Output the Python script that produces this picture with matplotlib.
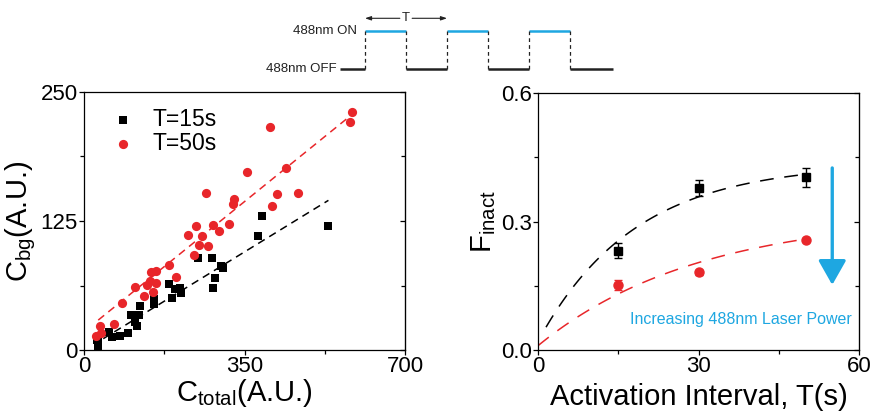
import numpy as np
import matplotlib.pyplot as plt
from matplotlib.ticker import MultipleLocator

plt.rcParams['font.family'] = ['Liberation Sans', 'DejaVu Sans']
plt.rcParams['mathtext.default'] = 'regular'

RED = '#e8262a'
BLUE = '#1ea7e1'

# --- left panel: C_bg vs C_total ---
red_x = [585, 580, 405, 356, 440, 267, 327, 324, 420, 467, 411, 316, 281, 244, 295, 226,
         257, 251, 270, 240, 186, 156, 147, 200, 145, 158, 138, 111, 151, 131, 82, 66, 35, 26, 38]
red_y = [231, 221, 216, 172, 176, 152, 146, 141, 151, 152, 140, 122, 121, 120, 115, 111,
         110, 102, 101, 92, 82, 77, 76, 71, 67, 65, 63, 61, 56, 52, 46, 25, 23, 14, 16]
black_x = [531, 389, 379, 249, 279, 298, 304, 285, 282, 186, 198, 209, 211, 192, 153, 153,
           122, 103, 120, 111, 115, 97, 78, 55, 60, 30, 30, 30, 28]
black_y = [120, 130, 110, 89, 89, 81, 79, 70, 60, 64, 59, 60, 55, 50, 49, 45,
           43, 34, 34, 27, 23, 16, 14, 17, 13, 8, 3, 5, 10]
# linear fits (slope, intercept) and drawn ranges
fit15 = (0.273, -0.5)
fit15_x = [42, 533]
fit50 = (0.36, 17.8)
fit50_x = [31, 584]

# --- right panel: F_inact vs activation interval ---
interval = [15, 30, 50]
f_black = [0.232, 0.378, 0.403]
f_black_err = [0.017, 0.019, 0.022]
f_red = [0.152, 0.181, 0.257]
f_red_err = [0.012, 0.006, 0.0]
# saturating fits: y0 + A*(1-exp(-T/tau))
sat_black = (0.02, 0.416, 18.0)
sat_black_x = [1.5, 50]
sat_red = (0.01, 0.307, 30.0)
sat_red_x = [0.0, 50]

# --- pulse schematic: levels per segment (0 = off, 1 = on) ---
seg_start = [-0.62, 0, 1, 2, 3, 4, 5]
seg_end = [0, 1, 2, 3, 4, 5, 6.04]
seg_level = [0, 1, 0, 1, 0, 1, 0]

fig = plt.figure(figsize=(8.75, 4.19), dpi=100)

def style_axes(ax):
    for s in ax.spines.values():
        s.set_linewidth(0.9)
    ax.tick_params(which='both', direction='out', top=False, right=False,
                   labelsize=16, pad=1, width=0.9)
    ax.tick_params(which='major', length=3.5)
    ax.tick_params(which='minor', length=3)
    sec = ax.secondary_yaxis('right')
    sec.tick_params(which='both', direction='in', labelright=False, width=0.9)
    sec.tick_params(which='major', length=3.5)
    sec.tick_params(which='minor', length=3)
    return sec

# left axes
ax1 = fig.add_axes([84/875, 69/419, 321/875, 258/419])
ax1.scatter(black_x, black_y, marker='s', s=34, color='black', linewidths=0, zorder=3, label='T=15s')
ax1.scatter(red_x, red_y, marker='o', s=44, color=RED, linewidths=0, zorder=3, label='T=50s')
fx = np.array(fit15_x)
ax1.plot(fx, fit15[0]*fx + fit15[1], ls=(0, (5, 3.5)), color='black', lw=1.1, zorder=2)
fx = np.array(fit50_x)
ax1.plot(fx, fit50[0]*fx + fit50[1], ls=(0, (5, 3.5)), color=RED, lw=1.1, zorder=2)
ax1.set_xlim(0, 700)
ax1.set_ylim(0, 250)
ax1.xaxis.set_major_locator(MultipleLocator(350))
ax1.xaxis.set_minor_locator(MultipleLocator(175))
ax1.yaxis.set_major_locator(MultipleLocator(125))
ax1.yaxis.set_minor_locator(MultipleLocator(62.5))
sec1 = style_axes(ax1)
sec1.yaxis.set_major_locator(MultipleLocator(125))
sec1.yaxis.set_minor_locator(MultipleLocator(62.5))
ax1.set_xlabel('C$_{total}$(A.U.)', fontsize=21, labelpad=0)
ax1.set_ylabel('C$_{bg}$(A.U.)', fontsize=21, labelpad=2)
ax1.legend(loc='upper left', frameon=False, fontsize=16.5, handletextpad=0.3,
           borderaxespad=0.3, labelspacing=0.05, markerscale=1.0,
           bbox_to_anchor=(0.0, 1.0))

# right axes
ax2 = fig.add_axes([538/875, 69/419, 321/875, 257/419])
tx = np.linspace(sat_black_x[0], sat_black_x[1], 100)
ax2.plot(tx, sat_black[0] + sat_black[1]*(1 - np.exp(-tx/sat_black[2])),
         ls=(0, (9, 7)), color='black', lw=1.1, zorder=2)
tx = np.linspace(sat_red_x[0], sat_red_x[1], 100)
ax2.plot(tx, sat_red[0] + sat_red[1]*(1 - np.exp(-tx/sat_red[2])),
         ls=(0, (9, 7)), color=RED, lw=1.1, zorder=2)
ax2.errorbar(interval, f_black, yerr=f_black_err, fmt='s', ms=6, color='black',
             ecolor='black', elinewidth=1, capsize=3, capthick=1, zorder=3)
ax2.errorbar(interval, f_red, yerr=f_red_err, fmt='o', ms=6.5, color=RED,
             ecolor=RED, elinewidth=1, capsize=3, capthick=1, zorder=3)
ax2.set_xlim(0, 60)
ax2.set_ylim(0, 0.6)
ax2.xaxis.set_major_locator(MultipleLocator(30))
ax2.xaxis.set_minor_locator(MultipleLocator(15))
ax2.yaxis.set_major_locator(MultipleLocator(0.3))
ax2.yaxis.set_minor_locator(MultipleLocator(0.15))
ax2.yaxis.set_major_formatter(plt.FormatStrFormatter('%.1f'))
sec2 = style_axes(ax2)
sec2.yaxis.set_major_locator(MultipleLocator(0.3))
sec2.yaxis.set_minor_locator(MultipleLocator(0.15))
ax2.set_xlabel('Activation Interval, T(s)', fontsize=21, labelpad=4)
ax2.set_ylabel('F$_{inact}$', fontsize=21, labelpad=2)
ax2.annotate('', xy=(55, 0.152), xytext=(55, 0.425),
             arrowprops=dict(arrowstyle='-|>,head_length=1.5,head_width=0.85',
                             color=BLUE, lw=2.4, shrinkA=0, shrinkB=0))
ax2.text(58.6, 0.072, 'Increasing 488nm Laser Power', color=BLUE, fontsize=11.5,
         ha='right', va='center')

# pulse schematic
ax3 = fig.add_axes([280/875, 1 - 80/419, 340/875, 75/419])
ax3.set_xlim((280 - 365)/41, (620 - 365)/41)
ax3.set_ylim(-0.287, 1.671)
ax3.axis('off')
for a, b, lv in zip(seg_start, seg_end, seg_level):
    ax3.plot([a, b], [lv, lv], color=BLUE if lv else '#222222', lw=1.8,
             solid_capstyle='butt')
for e in seg_end[:-1]:
    ax3.plot([e, e], [0, 1], color='#222222', lw=0.9, ls=(0, (3, 2.5)))
ax3.annotate('', xy=(0, 1.324), xytext=(0.85, 1.324),
             arrowprops=dict(arrowstyle='-|>,head_length=0.35,head_width=0.12',
                             color='#222222', lw=0.8, shrinkA=0, shrinkB=0))
ax3.annotate('', xy=(2, 1.324), xytext=(1.15, 1.324),
             arrowprops=dict(arrowstyle='-|>,head_length=0.35,head_width=0.12',
                             color='#222222', lw=0.8, shrinkA=0, shrinkB=0))
ax3.text(1.0, 1.324, 'T', ha='center', va='center', fontsize=9.5, color='#222222')
ax3.text(-0.2, 1, '488nm ON', ha='right', va='center', fontsize=9.5, color='#222222')
ax3.text(-0.7, 0, '488nm OFF', ha='right', va='center', fontsize=9.5, color='#222222')

fig.savefig('out.png', dpi=100)
